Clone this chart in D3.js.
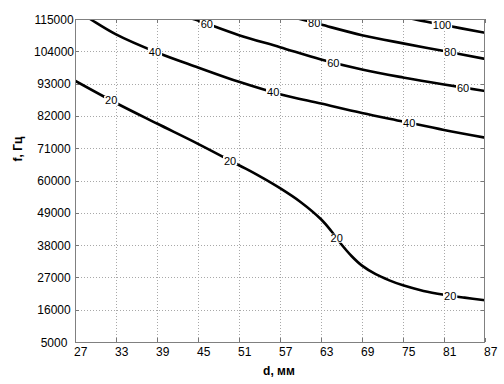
<!DOCTYPE html>
<html><head><meta charset="utf-8">
<script src="https://cdn.jsdelivr.net/npm/d3@7"></script>
<style>body{margin:0;background:#fff}svg{display:block}text{font-family:Arial,"Liberation Sans",sans-serif}</style>
</head><body><svg id="c" width="504" height="384"></svg>
<script>
const xTicks = [27,33,39,45,51,57,63,69,75,81,87];
const yTicks = [5000,16000,27000,38000,49000,60000,71000,82000,93000,104000,115000];
const levels = [20,40,60,80,100];
// contour 20
const c20d = [27,33,39,45,51,54,57,60,63,64.5,66,67.5,69,71,73,75,78,81,84,87];
const c20f = [94000,86400,79400,72500,65200,61500,57400,52700,46800,42800,38200,34200,31000,28100,26000,24300,22400,21100,20100,19200];
// contour 40
const c40d = [27,29.2,33,39,45,51,57,63,69,75,81,87];
const c40f = [118200,115000,109750,103600,98500,93600,89400,86200,83000,80100,77200,74600];
// contour 60
const c60d = [43,44.3,45,51,57,63,69,75,81,87];
const c60f = [116000,115000,114500,109500,105400,101200,97800,95100,92700,90500];
// contour 80
const c80d = [57,59.9,63,69,75,81,87];
const c80f = [116700,115000,113100,109500,106700,104100,101400];
// contour 100
const c100d = [75,76.5,81,87];
const c100f = [116000,115000,112950,110300];
const labelD = {20:[32.3,49.7,65.3,81.9], 40:[38.7,56.0,75.9], 60:[46.3,64.8,83.8], 80:[62.0,81.9], 100:[80.7]};

const contours = [
  {level:20, d:c20d, f:c20f},
  {level:40, d:c40d, f:c40f},
  {level:60, d:c60d, f:c60f},
  {level:80, d:c80d, f:c80f},
  {level:100, d:c100d, f:c100f}
];

const svg = d3.select("#c");
const L=75, R=485, T=19, B=342;
const x = d3.scaleLinear().domain([27,87]).range([L,R]);
const y = d3.scaleLinear().domain([5000,115000]).range([B,T]);

// grid
const g = svg.append("g");
g.selectAll(".gx").data(xTicks.slice(1,-1)).enter().append("line")
  .attr("x1",d=>x(d)+0.5).attr("x2",d=>x(d)+0.5).attr("y1",T).attr("y2",B)
  .attr("stroke","#a8a8a8").attr("stroke-dasharray","1,2");
g.selectAll(".gy").data(yTicks.slice(1,-1)).enter().append("line")
  .attr("y1",d=>Math.round(y(d))+0.5).attr("y2",d=>Math.round(y(d))+0.5).attr("x1",L).attr("x2",R)
  .attr("stroke","#a8a8a8").attr("stroke-dasharray","1,2");

// tick marks inside
g.selectAll(".tx").data(xTicks).enter().append("line")
  .attr("x1",d=>x(d)+0.5).attr("x2",d=>x(d)+0.5).attr("y1",B).attr("y2",B-4).attr("stroke","#777");
g.selectAll(".tx2").data(xTicks).enter().append("line")
  .attr("x1",d=>x(d)+0.5).attr("x2",d=>x(d)+0.5).attr("y1",T).attr("y2",T+4).attr("stroke","#777");
g.selectAll(".ty").data(yTicks).enter().append("line")
  .attr("y1",d=>Math.round(y(d))+0.5).attr("y2",d=>Math.round(y(d))+0.5).attr("x1",L).attr("x2",L+4).attr("stroke","#777");
g.selectAll(".ty2").data(yTicks).enter().append("line")
  .attr("y1",d=>Math.round(y(d))+0.5).attr("y2",d=>Math.round(y(d))+0.5).attr("x1",R).attr("x2",R-4).attr("stroke","#777");

svg.append("defs").append("clipPath").attr("id","clip").append("rect")
  .attr("x",L).attr("y",T).attr("width",R-L).attr("height",B-T);

const line = d3.line().x(p=>x(p[0])).y(p=>y(p[1])).curve(d3.curveCatmullRom.alpha(0.5));
const cg = svg.append("g").attr("clip-path","url(#clip)");
const labG = svg.append("g");
contours.forEach(c=>{
  const pts = c.d.map((d,i)=>[d,c.f[i]]);
  const path = cg.append("path").attr("d",line(pts)).attr("fill","none")
    .attr("stroke","#000").attr("stroke-width",2.6);
  const node = path.node(), len = node.getTotalLength();
  labelD[c.level].forEach(ld=>{
    const tx = x(ld);
    let lo=0, hi=len;
    for(let k=0;k<40;k++){const m=(lo+hi)/2; if(node.getPointAtLength(m).x<tx) lo=m; else hi=m;}
    const p = node.getPointAtLength(lo);
    const t = labG.append("text").attr("x",p.x).attr("y",p.y).attr("text-anchor","middle")
      .attr("dominant-baseline","central").attr("font-size",11).attr("fill","#000").text(c.level);
    const bb = t.node().getBBox();
    labG.insert("rect","text").attr("x",bb.x-1).attr("y",p.y-4.5).attr("width",bb.width+2).attr("height",9).attr("fill","#fff");
  });
});

// frame
svg.append("rect").attr("x",L+0.5).attr("y",T+0.5).attr("width",R-L-1).attr("height",B-T)
  .attr("fill","none").attr("stroke","#808080");

// tick labels
svg.selectAll(".xl").data(xTicks).enter().append("text")
  .attr("x",d=>x(d)-1).attr("y",356).attr("font-size",12).attr("fill","#000").text(d=>d);
svg.selectAll(".yl").data(yTicks).enter().append("text")
  .attr("x",54).attr("y",d=>y(d)+4.5).attr("text-anchor","middle").attr("font-size",12).attr("fill","#000").text(d=>d);

// axis titles
svg.append("text").attr("x",279).attr("y",375).attr("text-anchor","middle").attr("font-size",12)
  .attr("font-weight","bold").text("d, мм");
svg.append("text").attr("transform","translate(22,149) rotate(-90)").attr("text-anchor","middle")
  .attr("font-size",12).attr("font-weight","bold").text("f, Гц");
</script></body></html>
